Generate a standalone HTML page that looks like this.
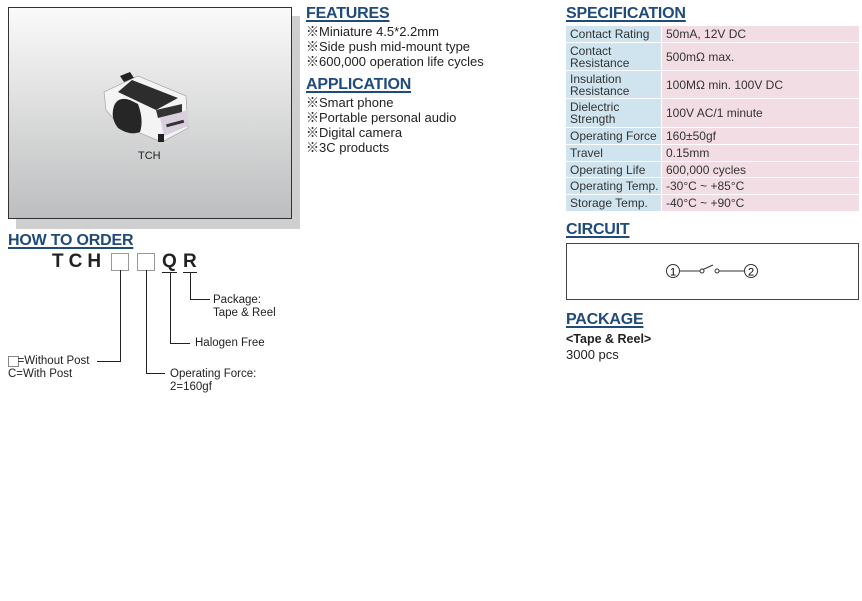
<!DOCTYPE html>
<html><head><meta charset="utf-8"><style>
body{margin:0;width:862px;height:601px;background:#fff;position:relative;overflow:hidden;font-family:"Liberation Sans","Noto Sans CJK JP",sans-serif;color:#222}
.a{position:absolute;white-space:nowrap}
.h{position:absolute;font-weight:bold;font-size:16px;color:#1f4a7c;text-decoration:underline;text-decoration-thickness:2px;text-underline-offset:2px;letter-spacing:-0.2px}
.l{font-size:13px;line-height:15px}
table{position:absolute;left:566px;top:25px;border-collapse:separate;border-spacing:0 1px;font-size:12px;color:#333}
td{padding:0 0 0 4px;line-height:12px}
td.k{background:#cfe4ee;width:91px;border-right:1px solid #fff}
td.v{background:#f3dde4;width:193px}
</style></head><body>
<div class="a" style="left:16px;top:16px;width:284px;height:213px;background:#cfcfcf"></div>
<div class="a" style="left:8px;top:7px;width:282px;height:210px;border:1px solid #333;background:linear-gradient(#fafafa,#bdbebf)"></div>
<svg class="a" style="left:100px;top:70px" width="100" height="75">
<path d="M20 6 L30 2 L34 8 L24 12 Z" fill="#222"/>
<path d="M4 22 L38 6 L86 26 L88 58 L62 72 L18 54 L6 40 Z" fill="#f4f4f4" stroke="#999" stroke-width=".6"/>
<path d="M32 10 L78 28 L56 40 L18 22 Z" fill="#2d2d2d"/>
<path d="M14 36 Q18 26 30 30 L38 34 Q44 50 40 62 Q30 66 18 58 Q10 48 14 36 Z" fill="#262626"/>
<path d="M60 48 L88 40 L88 56 L64 66 Z" fill="#d8d0dc"/>
<rect x="66" y="52" width="18" height="3" fill="#333" transform="rotate(-15 75 53)"/>
<path d="M56 40 L82 34 L82 42 L58 48 Z" fill="#333"/>
<rect x="58" y="64" width="6" height="8" fill="#222"/>
</svg>
<div class="a" style="left:138px;top:150px;font-size:11px">TCH</div>

<div class="h" style="left:306px;top:5px">FEATURES</div>
<div class="a l" style="left:306px;top:24px">※Miniature 4.5*2.2mm<br>※Side push mid-mount type<br>※600,000 operation life cycles</div>
<div class="h" style="left:306px;top:76px">APPLICATION</div>
<div class="a l" style="left:306px;top:95px">※Smart phone<br>※Portable personal audio<br>※Digital camera<br>※3C products</div>

<div class="h" style="left:566px;top:5px">SPECIFICATION</div>
<table>
<tr style="height:16px"><td class="k">Contact Rating</td><td class="v">50mA, 12V DC</td></tr>
<tr style="height:27px"><td class="k">Contact<br>Resistance</td><td class="v">500mΩ max.</td></tr>
<tr style="height:27px"><td class="k">Insulation<br>Resistance</td><td class="v">100MΩ min. 100V DC</td></tr>
<tr style="height:28px"><td class="k">Dielectric<br>Strength</td><td class="v">100V AC/1 minute</td></tr>
<tr style="height:16px"><td class="k">Operating Force</td><td class="v">160±50gf</td></tr>
<tr style="height:16px"><td class="k">Travel</td><td class="v">0.15mm</td></tr>
<tr style="height:15px"><td class="k">Operating Life</td><td class="v">600,000 cycles</td></tr>
<tr style="height:16px"><td class="k">Operating Temp.</td><td class="v">-30°C ~ +85°C</td></tr>
<tr style="height:16px"><td class="k">Storage Temp.</td><td class="v">-40°C ~ +90°C</td></tr>
</table>

<div class="h" style="left:566px;top:221px">CIRCUIT</div>
<div class="a" style="left:566px;top:243px;width:291px;height:55px;border:1px solid #444"></div>
<svg class="a" style="left:640px;top:255px" width="140" height="30">
<g fill="none" stroke="#333" stroke-width="1">
<circle cx="33" cy="16" r="6.5"/><circle cx="111" cy="16" r="6.5"/>
<line x1="39.5" y1="16" x2="60" y2="16"/><line x1="79" y1="16" x2="104.5" y2="16"/>
<circle cx="62" cy="16" r="2"/><circle cx="77" cy="16" r="2"/>
<line x1="63" y1="14.5" x2="73" y2="10"/></g>
<text x="33" y="20.5" font-size="11" text-anchor="middle" font-family="Liberation Sans">1</text>
<text x="111" y="20.5" font-size="11" text-anchor="middle" font-family="Liberation Sans">2</text>
</svg>

<div class="h" style="left:566px;top:311px">PACKAGE</div>
<div class="a" style="left:566px;top:332px;font-size:12.5px;font-weight:bold;line-height:15px">&lt;Tape &amp; Reel&gt;</div>
<div class="a" style="left:566px;top:347px;font-size:13px;line-height:15px">3000 pcs</div>

<div class="h" style="left:8px;top:232px">HOW TO ORDER</div>
<div class="a" style="left:52px;top:251px;font-size:19px;font-weight:bold;letter-spacing:5px">TCH</div>
<div class="a" style="left:111px;top:253px;width:16px;height:16px;border:1px solid #999"></div>
<div class="a" style="left:137px;top:253px;width:16px;height:16px;border:1px solid #999"></div>
<div class="a" style="left:162px;top:251px;font-size:19px;font-weight:bold">Q</div>
<div class="a" style="left:183px;top:251px;font-size:19px;font-weight:bold">R</div>
<svg class="a" style="left:0;top:0" width="300" height="400">
<g stroke="#222" stroke-width="1" fill="none">
<line x1="162" y1="272.5" x2="177" y2="272.5"/><line x1="183" y1="272.5" x2="197" y2="272.5"/>
<polyline points="190.5,272 190.5,299.5 210,299.5"/>
<polyline points="170.5,272 170.5,343.5 190,343.5"/>
<polyline points="146.5,270 146.5,373.5 165,373.5"/>
<polyline points="120.5,270 120.5,361.5 97,361.5"/>
</g></svg>
<div class="a" style="left:213px;top:294px;font-size:11.5px;line-height:13px">Package:<br>Tape &amp; Reel</div>
<div class="a" style="left:195px;top:337px;font-size:11.5px">Halogen Free</div>
<div class="a" style="left:170px;top:368px;font-size:11.5px;line-height:13px">Operating Force:<br>2=160gf</div>
<div class="a" style="left:8px;top:356px;width:9px;height:9px;border:1px solid #888"></div>
<div class="a" style="left:8px;top:355px;font-size:11.5px;line-height:13px">&nbsp;&nbsp;&nbsp;=Without Post<br>C=With Post</div>
</body></html>
